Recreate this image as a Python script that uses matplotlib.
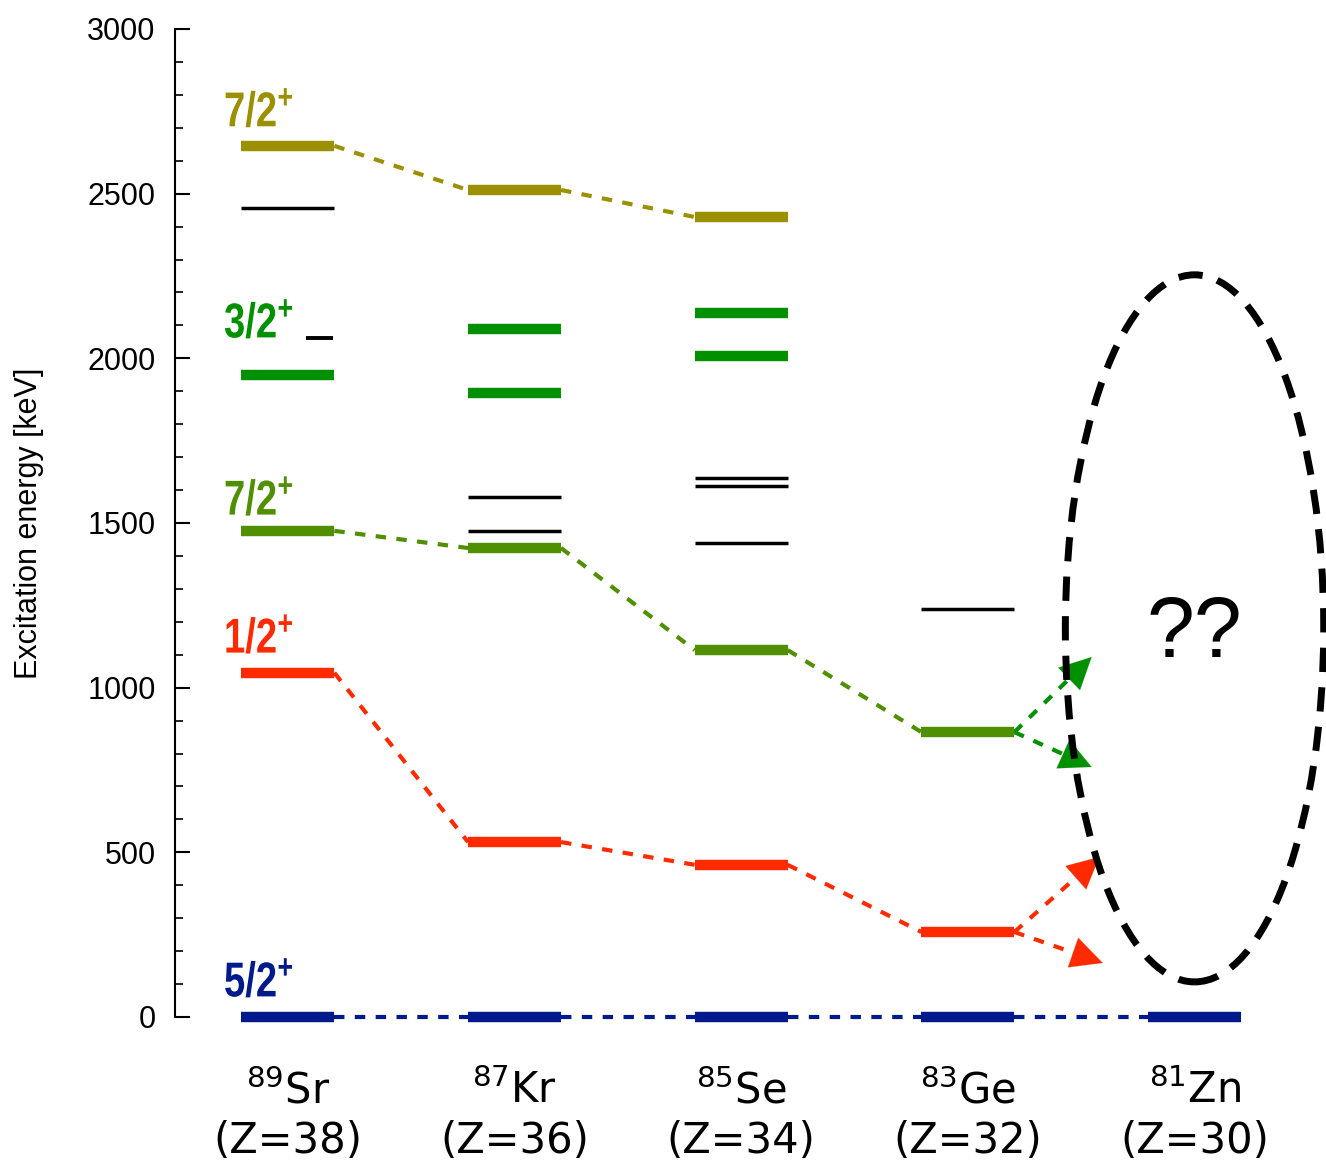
import numpy as np
import matplotlib.pyplot as plt
import matplotlib.transforms as mtransforms
from matplotlib.patches import Ellipse, PathPatch
from matplotlib.textpath import TextPath
from matplotlib.font_manager import FontProperties

# Nuclei
mass = ['89', '87', '85', '83', '81']
elem = ['Sr', 'Kr', 'Se', 'Ge', 'Zn']
zval = [38, 36, 34, 32, 30]

# Tracked levels (keV), one value per nucleus
e_52 = [0, 0, 0, 0, 0]
e_12 = [1045, 531, 462, 258]
e_72_low = [1476, 1424, 1114, 865]
e_72_high = [2645, 2511, 2429]

# 3/2+ levels per nucleus
e_32 = {0: [1950], 1: [2089, 1895], 2: [2138, 2007]}

# other (black) levels per nucleus
e_other = {0: [2455], 1: [1579, 1476], 2: [1637, 1612, 1439], 3: [1239]}
e_other_short = [2062]   # short level next to the 3/2+ label of 89Sr

# predicted 81Zn levels (arrow tips)
arrow_green = [1093, 759]
arrow_green_x = [3.546, 3.546]
arrow_red = [486, 164]
arrow_red_x = [3.58, 3.595]

# spin labels: text, energy of baseline
spin_text = ['7/2', '3/2', '7/2', '1/2', '5/2']
spin_y = [2703, 2062, 1524, 1105, 61]

c_olive = '#9a9000'
c_green = '#009000'
c_lgreen = '#4f8f00'
c_red = '#ff2a00'
c_blue = '#001a8c'
spin_col = [c_olive, c_green, c_lgreen, c_red, c_blue]

hw = 0.205
lw_bar = 7.5
dash = (0, (2.5, 2.5))

fig = plt.figure(figsize=(13.26, 11.68), dpi=100)
ax = fig.add_axes([0.132, 0.1293, 0.868, 0.8459])
ax.set_xlim(-0.498, 4.58)
ax.set_ylim(0, 3000)


def chain(vals, color):
    for i, e in enumerate(vals):
        ax.plot([i - hw, i + hw], [e, e], color=color, lw=lw_bar,
                solid_capstyle='butt', zorder=3, clip_on=False)
    for i in range(len(vals) - 1):
        ax.plot([i + hw, i + 1 - hw], [vals[i], vals[i + 1]], color=color,
                lw=3, linestyle=dash, zorder=2, clip_on=False)


chain(e_52, c_blue)
chain(e_12, c_red)
chain(e_72_low, c_lgreen)
chain(e_72_high, c_olive)

for i, levels in e_32.items():
    for e in levels:
        ax.plot([i - hw, i + hw], [e, e], color=c_green, lw=lw_bar,
                solid_capstyle='butt', zorder=3)

for i, levels in e_other.items():
    for e in levels:
        ax.plot([i - hw, i + hw], [e, e], color='black', lw=2.5,
                solid_capstyle='butt', zorder=3)
for e in e_other_short:
    ax.plot([0.08, 0.2], [e, e], color='black', lw=2.8,
            solid_capstyle='butt', zorder=3)


# arrows towards 81Zn
def arrows(start, ends, xs, color):
    x0 = 3 + hw
    for xe, ye in zip(xs, ends):
        dx, dy = xe - x0, ye - start
        ax.plot([x0, x0 + 0.8 * dx], [start, start + 0.8 * dy], color=color,
                lw=3, linestyle=dash, zorder=2)
        ax.annotate('', xy=(xe, ye), xytext=(x0 + 0.7 * dx, start + 0.7 * dy),
                    arrowprops=dict(arrowstyle='-|>,head_length=0.9,head_width=0.45',
                                    color=color, lw=0.1, mutation_scale=25,
                                    shrinkA=0, shrinkB=0), zorder=4)


arrows(e_72_low[3], arrow_green, arrow_green_x, c_green)
arrows(e_12[3], arrow_red, arrow_red_x, c_red)

# unknown region
ell = Ellipse((4, 1180), width=1.14, height=2147, fill=False, edgecolor='black',
              lw=5, linestyle=(0, (3.5, 2.2)), zorder=5, clip_on=False)
ax.add_patch(ell)
ax.text(4, 1160, '??', fontsize=62, family='Liberation Sans', ha='center',
        va='center')

# spin labels, condensed bold (horizontally squeezed text path)
fp = FontProperties(family='Liberation Sans', weight='bold')
for t, y, c in zip(spin_text, spin_y, spin_col):
    tp = TextPath((0, 0), r'$\mathregular{' + t + '^{+}}$', size=49, prop=fp)
    px, py = ax.transData.transform((-0.282, y))
    tr = mtransforms.Affine2D().scale(0.78, 1.0).translate(px, py)
    ax.add_patch(PathPatch(tp, transform=tr, facecolor=c, lw=0,
                           clip_on=False, zorder=4))

# nucleus labels
for i in range(len(mass)):
    ax.text(i, -262, r'$^{' + mass[i] + '}$' + elem[i], fontsize=30,
            family='DejaVu Sans', ha='center', va='baseline')
    ax.text(i, -412, '(Z=%d)' % zval[i], fontsize=30,
            family='DejaVu Sans', ha='center', va='baseline')

ax.spines['top'].set_visible(False)
ax.spines['right'].set_visible(False)
ax.spines['bottom'].set_visible(False)
ax.spines['left'].set_linewidth(1.5)
ax.set_xticks([])
ax.set_yticks(np.arange(0, 3001, 500))
ax.set_yticks(np.arange(0, 3001, 100), minor=True)
ax.tick_params(axis='y', which='major', direction='in', length=11, width=1.5,
               labelsize=22, pad=14)
ax.tick_params(axis='y', which='minor', direction='in', length=6, width=1.2)
for lab in ax.get_yticklabels():
    lab.set_family('Liberation Sans')
ax.set_ylabel('Excitation energy [keV]', fontsize=22, family='Liberation Sans',
              labelpad=31)

fig.savefig('out.png', dpi=100)
